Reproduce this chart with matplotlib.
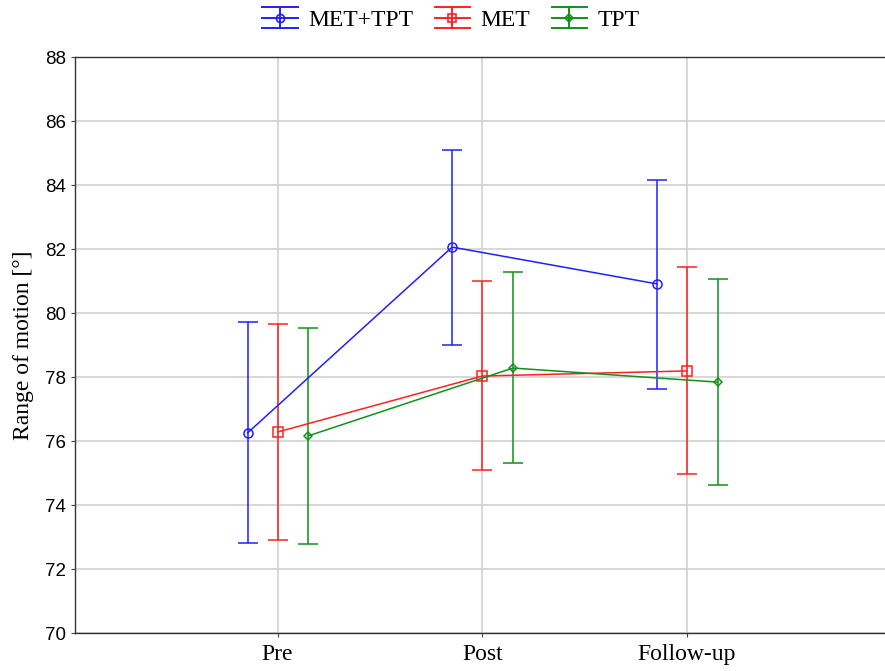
import matplotlib
matplotlib.use("Agg")
import matplotlib.pyplot as plt
from matplotlib.legend_handler import HandlerBase
from matplotlib.lines import Line2D
import numpy as np

etapas = ["Pre", "Post", "Follow-up"]
grupos = ["MET+TPT", "MET", "TPT"]

# medias y limites superior / inferior de cada grupo
medias = {
    "MET+TPT": [76.25, 82.06, 80.91],
    "MET": [76.28, 78.03, 78.19],
    "TPT": [76.16, 78.28, 77.84],
}
sup = {
    "MET+TPT": [79.72, 85.09, 84.16],
    "MET": [79.66, 81.00, 81.44],
    "TPT": [79.53, 81.28, 81.06],
}
inf = {
    "MET+TPT": [72.81, 79.00, 77.63],
    "MET": [72.91, 75.09, 74.97],
    "TPT": [72.78, 75.31, 74.63],
}

colores = {"MET+TPT": "#1f1fff", "MET": "#ff2020", "TPT": "#11911a"}
marcas = {"MET+TPT": "o", "MET": "s", "TPT": "D"}
tam = {"MET+TPT": 6.5, "MET": 6.5, "TPT": 4.5}
desplaz = {"MET+TPT": -0.147, "MET": 0.0, "TPT": 0.15}


# simbolo de leyenda: tres rayas horizontales cruzadas por una vertical con la marca
class SimboloError(HandlerBase):
    def create_artists(self, legend, orig_handle, xdescent, ydescent, width, height, fontsize, trans):
        c = orig_handle.get_color()
        x0, x1 = -xdescent, -xdescent + width
        yc = -ydescent + height / 2
        h = height * 0.65
        xm = (x0 + x1) / 2
        arts = []
        for yy in (yc - h, yc, yc + h):
            arts.append(Line2D([x0, x1], [yy, yy], color=c, lw=1.4))
        arts.append(Line2D([xm, xm], [yc - h, yc + h], color=c, lw=1.4))
        arts.append(Line2D([xm], [yc], color=c, marker=orig_handle.get_marker(),
                           markersize=orig_handle.get_markersize(), markerfacecolor="none",
                           markeredgewidth=1.2, linestyle="none"))
        for a in arts:
            a.set_transform(trans)
        return arts


fig = plt.figure(figsize=(8.85, 6.71), dpi=100)
ax = fig.add_axes([75 / 885, 38 / 671, 816.5 / 885, 576 / 671])

x = np.arange(len(etapas))
manijas = []
for g in grupos:
    m = np.array(medias[g])
    err = [m - np.array(inf[g]), np.array(sup[g]) - m]
    ax.errorbar(x + desplaz[g], m, yerr=err, color=colores[g], marker=marcas[g],
                markersize=tam[g], markerfacecolor="none", markeredgewidth=1.1,
                linewidth=1.1, elinewidth=1.1, capsize=7.5, capthick=1.1)
    manijas.append(Line2D([], [], color=colores[g], marker=marcas[g], markersize=tam[g] * 0.9))

ax.set_xlim(-0.99, 3.0)
ax.set_ylim(70, 88)
ax.set_yticks(range(70, 89, 2))
ax.set_xticks(x)
ax.set_xticklabels(etapas, fontfamily="Liberation Serif", fontsize=17)
for t in ax.get_yticklabels():
    t.set_fontfamily("Liberation Sans")
    t.set_fontsize(13.5)
ax.tick_params(axis="both", length=3, width=0.8, color="#444444")
ax.tick_params(axis="x", pad=5)
ax.grid(True, color="#d4d4d4", linewidth=1.3)
ax.set_axisbelow(True)
for s in ax.spines.values():
    s.set_linewidth(1.0)
    s.set_color("#333333")

ax.set_ylabel("Range of motion [°]", fontfamily="Liberation Serif", fontsize=17, labelpad=8)

fig.legend(manijas, grupos, loc="center", bbox_to_anchor=(451 / 885, 1 - 20 / 671),
           ncol=3, frameon=False, prop={"family": "Liberation Serif", "size": 17},
           handlelength=1.5, columnspacing=0.9, handletextpad=0.45,
           handler_map={Line2D: SimboloError()})

fig.savefig("out.png", dpi=100)
